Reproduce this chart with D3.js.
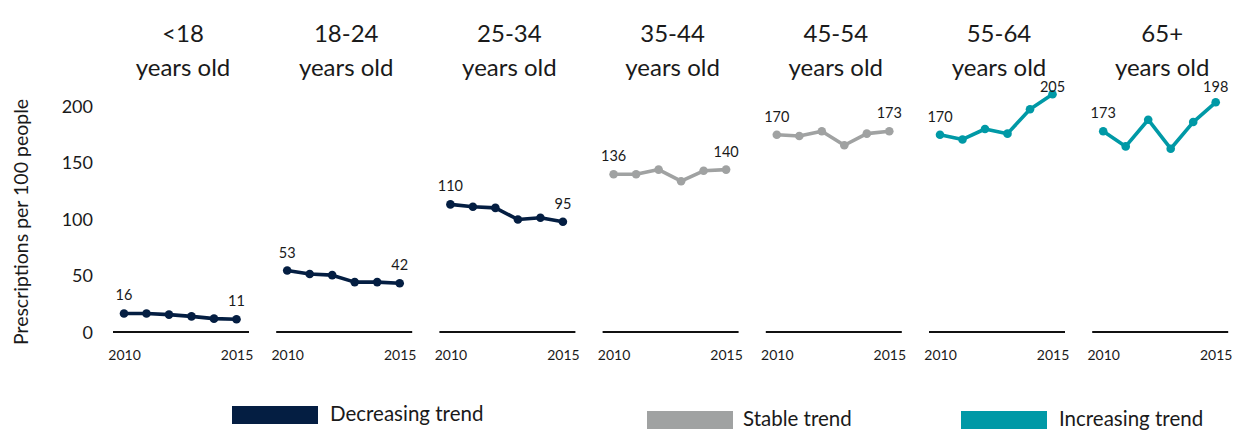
<!DOCTYPE html>
<html>
<head>
<meta charset="utf-8">
<script src="https://cdn.jsdelivr.net/npm/d3@7/dist/d3.min.js"></script>
<style>
  html, body { margin: 0; padding: 0; background: #ffffff; }
  svg { display: block; }
  text { font-family: Lato, "Noto Sans", sans-serif; fill: #1a1a1a; }
</style>
</head>
<body>
<svg id="chart" width="1240" height="430"></svg>
<script>
// ---- data ----
const categories = ["<18", "18-24", "25-34", "35-44", "45-54", "55-64", "65+"];
const years = [2010, 2011, 2012, 2013, 2014, 2015];
const trends = ["decreasing", "decreasing", "decreasing", "stable", "stable", "increasing", "increasing"];
const valuesUnder18 = [16, 16, 15, 13.5, 11.5, 11];
const values18to24 = [53, 50, 49, 43, 43, 42];
const values25to34 = [110, 108, 107, 97, 98.5, 95];
const values35to44 = [136, 136, 140, 130, 139, 140];
const values45to54 = [170, 169, 173, 161, 171, 173];
const values55to64 = [170, 166, 175, 171, 192, 205];
const values65plus = [173, 160, 183, 158, 181, 198];
const seriesValues = [valuesUnder18, values18to24, values25to34, values35to44, values45to54, values55to64, values65plus];
const endLabels = [[16, 11], [53, 42], [110, 95], [136, 140], [170, 173], [170, 205], [173, 198]];
const yTicks = [0, 50, 100, 150, 200];
const xTickLabels = [2010, 2015];
const trendKeys = ["decreasing", "stable", "increasing"];
const legendLabels = ["Decreasing trend", "Stable trend", "Increasing trend"];
const yTitle = "Prescriptions per 100 people";

// ---- styles ----
const colors = { decreasing: "#041e42", stable: "#a0a2a2", increasing: "#0099a6" };

const svg = d3.select("#chart");

// panel band scale
const panel = d3.scaleBand().domain(categories).range([113, 1228.2]).paddingInner(0.1667).paddingOuter(0);

// value scale used by panels
const y = d3.scaleLinear().domain([0, 200]).range([332, 100]);
// value scale used by the left axis labels
const yAxisScale = d3.scaleLinear().domain([0, 200]).range([332, 106]);

// y axis (labels only)
const yAxis = d3.axisLeft(yAxisScale).tickValues(yTicks).tickSize(0).tickPadding(0);
const gy = svg.append("g").attr("transform", "translate(93,0)").call(yAxis);
gy.select(".domain").remove();
gy.selectAll("text").style("font-family", "Lato, 'Noto Sans', sans-serif").style("font-size", "18px").attr("fill", "#1a1a1a").attr("dy", "0.36em");

// y axis title
svg.append("text")
  .attr("transform", "translate(28,222) rotate(-90)")
  .attr("text-anchor", "middle")
  .style("font-size", "19.5px")
  .text(yTitle);

categories.forEach((cat, i) => {
  const x0 = panel(cat);
  const bw = panel.bandwidth();
  const x = d3.scaleLinear().domain([2010, 2015]).range([x0 + 11, x0 + 123.5]);
  const col = colors[trends[i]];
  const g = svg.append("g");

  // titles
  g.append("text").attr("x", x0 + bw / 2 + 2).attr("y", 42).attr("text-anchor", "middle")
    .style("font-size", "24px").text(cat);
  g.append("text").attr("x", x0 + bw / 2 + 2).attr("y", 75.5).attr("text-anchor", "middle")
    .style("font-size", "24px").text("years old");

  // x axis baseline with year labels
  const xAxis = d3.axisBottom(x).tickValues(xTickLabels).tickFormat(d3.format("d")).tickSize(0).tickPadding(0);
  const gx = g.append("g").attr("transform", `translate(0,${y(0)})`).call(xAxis);
  gx.select(".domain").remove();
  gx.selectAll("text").style("font-family", "Lato, 'Noto Sans', sans-serif").style("font-size", "14px")
    .attr("fill", "#1a1a1a").attr("dy", "0").attr("y", 28);
  g.append("line").attr("x1", x0).attr("x2", x0 + bw).attr("y1", y(0)).attr("y2", y(0))
    .attr("stroke", "#111").attr("stroke-width", 2);

  const vals = seriesValues[i];
  const pts = years.map((yr, k) => ({ yr, v: vals[k] }));
  const line = d3.line().x(d => x(d.yr)).y(d => y(d.v));
  g.append("path").datum(pts).attr("d", line).attr("fill", "none")
    .attr("stroke", col).attr("stroke-width", 3.6).attr("stroke-linejoin", "round");
  g.selectAll("circle").data(pts).enter().append("circle")
    .attr("cx", d => x(d.yr)).attr("cy", d => y(d.v)).attr("r", 4.3).attr("fill", col);

  // end labels
  const ends = [{ yr: 2010, v: vals[0], lab: endLabels[i][0] }, { yr: 2015, v: vals[5], lab: endLabels[i][1] }];
  g.selectAll("text.lab").data(ends).enter().append("text").attr("class", "lab")
    .attr("x", d => x(d.yr)).attr("y", d => Math.max(y(d.v) - 13, 91.5))
    .attr("text-anchor", "middle").style("font-size", "14.5px").text(d => d.lab);
});

// legend
const legendPos = [
  { sx: 232, sy: 406, tx: 330, ty: 421 },
  { sx: 647, sy: 411, tx: 743, ty: 426 },
  { sx: 961, sy: 411, tx: 1059, ty: 426 }
];
trendKeys.forEach((k, i) => {
  const p = legendPos[i];
  svg.append("rect").attr("x", p.sx).attr("y", p.sy).attr("width", 86).attr("height", 18)
    .attr("fill", colors[k]);
  svg.append("text").attr("x", p.tx).attr("y", p.ty).style("font-size", "20.5px").text(legendLabels[i]);
});
</script>
</body>
</html>
